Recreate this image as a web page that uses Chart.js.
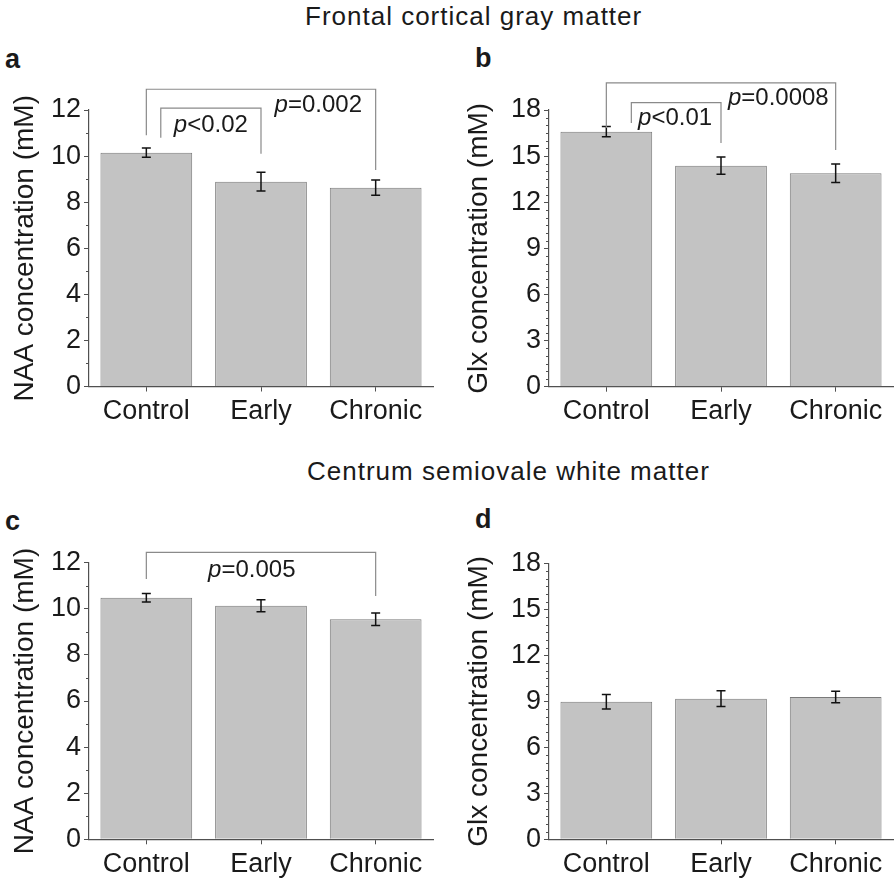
<!DOCTYPE html>
<html>
<head>
<meta charset="utf-8">
<script src="https://cdn.jsdelivr.net/npm/chart.js@4/dist/chart.umd.min.js"></script>
<style>
  body { margin: 0; background: #fff; width: 896px; height: 878px; position: relative; overflow: hidden;
         font-family: "Liberation Sans", Arial, sans-serif; color: #1a1a1a; }
  canvas { position: absolute; }
  .title { position: absolute; font-size: 26px; letter-spacing: 1px; line-height: 26px; white-space: nowrap; }
  .lab { position: absolute; font-size: 27px; font-weight: bold; line-height: 27px; }
</style>
</head>
<body>
<div class="title" style="left:305px;top:3px">Frontal cortical gray matter</div>
<div class="title" style="left:307px;top:458px">Centrum semiovale white matter</div>
<div class="lab" style="left:5px;top:46px">a</div>
<div class="lab" style="left:475px;top:45px">b</div>
<div class="lab" style="left:5px;top:508px">c</div>
<div class="lab" style="left:475px;top:506px">d</div>

<canvas id="ca" width="448" height="420" style="left:0;top:40px"></canvas>
<canvas id="cb" width="448" height="420" style="left:448px;top:40px"></canvas>
<canvas id="cc" width="448" height="378" style="left:0;top:500px"></canvas>
<canvas id="cd" width="448" height="378" style="left:448px;top:500px"></canvas>

<script>
// groups
const categories = ['Control', 'Early', 'Chronic'];

// frontal cortical gray matter
const naaGray = [10.15, 8.89, 8.63];
const naaGrayErr = [0.2, 0.41, 0.33];
const glxGray = [16.59, 14.38, 13.88];
const glxGrayErr = [0.33, 0.56, 0.6];

// centrum semiovale white matter
const naaWhite = [10.48, 10.13, 9.55];
const naaWhiteErr = [0.18, 0.26, 0.27];
const glxWhite = [8.97, 9.17, 9.28];
const glxWhiteErr = [0.47, 0.51, 0.38];

// y tick labels
const naaTicks = [0, 2, 4, 6, 8, 10, 12];
const glxTicks = [0, 3, 6, 9, 12, 15, 18];

// significance brackets (levels in mM, x in category units)
const bracketsA = [
  { from: 0, to: 2, top: 12.9, ends: [10.9, 9.4], text: '=0.002', textX: 1.5, textY: 12.2 },
  { from: 0.126, to: 1, top: 12.08, ends: [10.8, 10.1], text: '<0.02', textX: 0.563, textY: 11.35 }
];
const bracketsB = [
  { from: 0, to: 2, top: 19.77, ends: [16.83, 15.4], text: '=0.0008', textX: 1.5, textY: 18.78 },
  { from: 0.218, to: 1, top: 18.48, ends: [17.16, 15.85], text: '<0.01', textX: 0.6, textY: 17.48 }
];
const bracketsC = [
  { from: 0, to: 2, top: 12.45, ends: [11.29, 10.55], text: '=0.005', textX: 0.92, textY: 11.65 }
];

const FONT = '"Liberation Sans", Arial, sans-serif';
const AXIS = '#505050';

function catX(scale, v) {
  const p0 = scale.getPixelForValue(0);
  const p1 = scale.getPixelForValue(1);
  return p0 + v * (p1 - p0);
}

const extras = {
  id: 'extras',
  afterDatasetsDraw(chart, args, opts) {
    const ctx = chart.ctx;
    const x = chart.scales.x, y = chart.scales.y;
    // error bars
    ctx.save();
    ctx.strokeStyle = '#111';
    ctx.lineWidth = 1.5;
    opts.values.forEach((v, i) => {
      const cx = x.getPixelForValue(i);
      const hi = y.getPixelForValue(v + opts.errors[i]);
      const lo = y.getPixelForValue(v - opts.errors[i]);
      ctx.beginPath();
      ctx.moveTo(cx, hi); ctx.lineTo(cx, lo);
      ctx.moveTo(cx - 4.5, hi); ctx.lineTo(cx + 4.5, hi);
      ctx.moveTo(cx - 4.5, lo); ctx.lineTo(cx + 4.5, lo);
      ctx.stroke();
    });
    ctx.restore();
  },
  afterDraw(chart, args, opts) {
    const ctx = chart.ctx;
    const x = chart.scales.x, y = chart.scales.y;
    const left = chart.chartArea.left;
    ctx.save();
    // minor ticks
    ctx.strokeStyle = AXIS;
    ctx.lineWidth = 1;
    for (let v = 0; v < y.max; v += opts.minor) {
      if (opts.ticks.includes(v)) continue;
      const py = Math.round(y.getPixelForValue(v)) + 0.5;
      ctx.beginPath();
      ctx.moveTo(left - 3, py); ctx.lineTo(left, py);
      ctx.stroke();
    }
    // brackets
    ctx.strokeStyle = '#8a8a8a';
    ctx.lineWidth = 1.2;
    opts.brackets.forEach(b => {
      const x1 = catX(x, b.from), x2 = catX(x, b.to);
      const t = y.getPixelForValue(b.top);
      ctx.beginPath();
      ctx.moveTo(x1, y.getPixelForValue(b.ends[0]));
      ctx.lineTo(x1, t); ctx.lineTo(x2, t);
      ctx.lineTo(x2, y.getPixelForValue(b.ends[1]));
      ctx.stroke();
      // p-value text, italic p
      const tx = catX(x, b.textX), ty = y.getPixelForValue(b.textY);
      ctx.fillStyle = '#1a1a1a';
      ctx.textBaseline = 'middle';
      ctx.textAlign = 'left';
      ctx.font = 'italic 24px ' + FONT;
      const wp = ctx.measureText('p').width;
      ctx.font = '24px ' + FONT;
      const wr = ctx.measureText(b.text).width;
      const sx = tx - (wp + wr) / 2;
      ctx.font = 'italic 24px ' + FONT;
      ctx.fillText('p', sx, ty);
      ctx.font = '24px ' + FONT;
      ctx.fillText(b.text, sx + wp, ty);
    });
    ctx.restore();
  }
};

function makeChart(id, values, errors, ticks, minor, yTitle, brackets, g) {
  return new Chart(document.getElementById(id), {
    type: 'bar',
    data: {
      labels: categories,
      datasets: [{
        data: values,
        backgroundColor: '#c3c3c3',
        borderColor: '#7a7a7a',
        borderWidth: 1,
        barPercentage: 0.8,
        categoryPercentage: 1.0
      }]
    },
    options: {
      responsive: false,
      animation: false,
      devicePixelRatio: 1,
      layout: { padding: { top: g.top, right: g.right, left: 0, bottom: 0 } },
      plugins: {
        legend: { display: false },
        tooltip: { enabled: false },
        extras: { values: values, errors: errors, ticks: ticks, minor: minor, brackets: brackets }
      },
      scales: {
        x: {
          offset: true,
          grid: { display: true, drawOnChartArea: false, offset: false, tickLength: 5, color: AXIS },
          border: { display: true, color: AXIS, width: 1.2 },
          ticks: { color: '#1a1a1a', font: { family: FONT, size: 27 }, padding: 4, maxRotation: 0 },
          afterFit: s => { s.height = g.xH; }
        },
        y: {
          min: 0,
          max: ticks[ticks.length - 1],
          afterBuildTicks: s => { s.ticks = ticks.map(v => ({ value: v })); },
          grid: { display: true, drawOnChartArea: false, tickLength: 5, color: AXIS },
          border: { display: true, color: AXIS, width: 1.2 },
          ticks: { color: '#1a1a1a', font: { family: FONT, size: 27 }, padding: 3 },
          title: { display: true, text: yTitle, color: '#1a1a1a', font: { family: FONT, size: 28 },
                   padding: { top: g.titlePad, bottom: 0 } },
          afterFit: s => { s.width = g.yW; }
        }
      }
    },
    plugins: [extras]
  });
}

makeChart('ca', naaGray, naaGrayErr, naaTicks, 1, 'NAA concentration (mM)', bracketsA,
  { top: 70, right: 15, xH: 73.5, yW: 89, titlePad: 8 });
makeChart('cb', glxGray, glxGrayErr, glxTicks, 0.5, 'Glx concentration (mM)', bracketsB,
  { top: 70, right: 3, xH: 73.3, yW: 101, titlePad: 14 });
makeChart('cc', naaWhite, naaWhiteErr, naaTicks, 1, 'NAA concentration (mM)', bracketsC,
  { top: 62.7, right: 15, xH: 38.7, yW: 89, titlePad: 8 });
makeChart('cd', glxWhite, glxWhiteErr, glxTicks, 0.5, 'Glx concentration (mM)', [],
  { top: 63.3, right: 3, xH: 38.7, yW: 101, titlePad: 14 });
</script>
</body>
</html>
